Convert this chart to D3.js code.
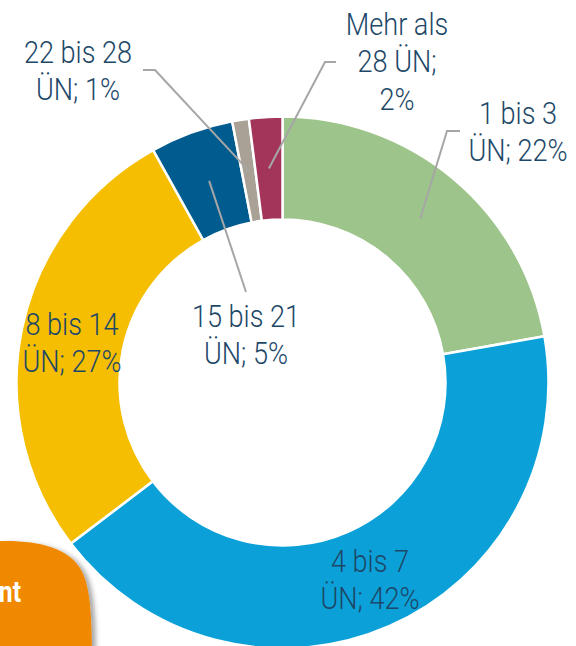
<!DOCTYPE html>
<html>
<head>
<meta charset="utf-8">
<script src="https://cdn.jsdelivr.net/npm/d3@7"></script>
<style>
  html, body { margin: 0; padding: 0; background: #fff; }
  svg { display: block; }
</style>
</head>
<body>
<script>
// shares of stays by number of nights (ÜN), clockwise from 12 o'clock
const categories = ["1 bis 3", "4 bis 7", "8 bis 14", "15 bis 21", "22 bis 28", "Mehr als 28"];
const shares = [22, 42, 27, 5, 1, 2];
const labelLines = [
    ["1 bis 3", "ÜN; 22%"],
    ["4 bis 7", "ÜN; 42%"],
    ["8 bis 14", "ÜN; 27%"],
    ["15 bis 21", "ÜN; 5%"],
    ["22 bis 28", "ÜN; 1%"],
    ["Mehr als", "28 ÜN;", "2%"]
];
const colors = ["#9dc48a", "#0ba1d8", "#f5be00", "#005b8e", "#a9a196", "#a3355a"];

const width = 576, height = 646;
const cx = 282.5, cy = 382.5;
const outerR = 266, innerR = 163;

// label placement (center x, first baseline) and leader elbows
const labelPos = [[518, 124], [370, 572], [72, 335], [246, 327], [78, 63], [397, 35]];
const leaderElbows = [[[460, 131], [447, 131]], null, null, [[246, 292]], [[143, 70], [155, 70]], [[336, 62], [325, 62]]];
const lineGap = 37.5;

const svg = d3.select("body").append("svg")
    .attr("width", width)
    .attr("height", height);

const defs = svg.append("defs");
const shadow = defs.append("filter").attr("id", "shadow")
    .attr("x", "-20%").attr("y", "-20%").attr("width", "150%").attr("height", "150%");
shadow.append("feDropShadow")
    .attr("dx", 4).attr("dy", 2).attr("stdDeviation", 2.5)
    .attr("flood-color", "#000").attr("flood-opacity", 0.35);

const pie = d3.pie().sort(null).value(d => d);
const arc = d3.arc().innerRadius(innerR).outerRadius(outerR);
const arcs = pie(shares);

const g = svg.append("g").attr("transform", `translate(${cx},${cy})`);

g.selectAll("path.slice")
    .data(arcs)
    .join("path")
    .attr("class", "slice")
    .attr("d", arc)
    .attr("fill", (d, i) => colors[i])
    .attr("stroke", "#fff")
    .attr("stroke-width", 2.5)
    .attr("stroke-linejoin", "miter");

// leader lines from slice centroid to label
const line = d3.line();
arcs.forEach((d, i) => {
    const elbows = leaderElbows[i];
    if (!elbows) return;
    const c = arc.centroid(d);
    const pts = elbows.map(p => [p[0], p[1]]).concat([[c[0] + cx, c[1] + cy]]);
    svg.append("path")
        .attr("d", line(pts))
        .attr("fill", "none")
        .attr("stroke", "#a6a6a6")
        .attr("stroke-width", 2);
});

// labels
labelLines.forEach((lines, i) => {
    const [x, y] = labelPos[i];
    const t = svg.append("g")
        .attr("transform", `translate(${x},${y}) scale(0.875,1)`)
        .append("text")
        .attr("text-anchor", "middle")
        .attr("font-family", "Roboto, 'Open Sans', sans-serif")
        .attr("font-weight", 300)
        .attr("font-size", 31)
        .attr("fill", "#1d4868");
    lines.forEach((s, k) => {
        t.append("tspan").attr("x", 0).attr("y", k * lineGap).text(s);
    });
});

// cut-off orange callout at the bottom left
svg.append("path")
    .attr("d", "M0,541 C38,540 68,548 80,568 C90,584 92,612 92,660 L0,660 Z")
    .attr("fill", "#f08800")
    .attr("filter", "url(#shadow)");

svg.append("g")
    .attr("transform", "translate(21,602) scale(0.85,1)")
    .append("text")
    .attr("text-anchor", "end")
    .attr("font-family", "Roboto, sans-serif")
    .attr("font-weight", 700)
    .attr("font-size", 29)
    .attr("fill", "#fff")
    .text("nt");
</script>
</body>
</html>
